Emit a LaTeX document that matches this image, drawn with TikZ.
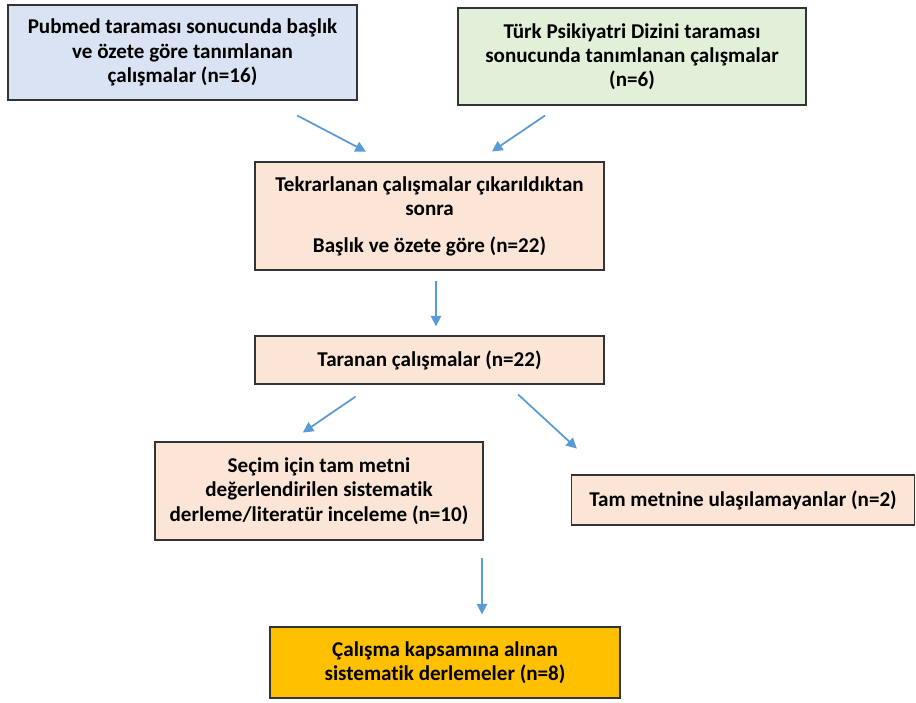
\documentclass[tikz,border=0pt]{standalone}
\usepackage{fontspec}
\setmainfont{Carlito}[Ligatures=NoCommon]
\usepackage{tikz}
\usetikzlibrary{arrows.meta}
\definecolor{pubblue}{HTML}{DAE3F3}
\definecolor{tpdgreen}{HTML}{E2F0D9}
\definecolor{peach}{HTML}{FBE5D6}
\definecolor{gold}{HTML}{FFC000}
\definecolor{arrblue}{HTML}{5B9BD5}
\tikzset{
  box/.style={draw=black!80,line width=0.8pt,align=center,inner sep=0pt,
    font=\fontsize{12}{13.8}\selectfont\bfseries},
  arr/.style={draw=arrblue,line width=1pt,-{Triangle[length=6pt,width=6pt]}}
}

\begin{document}
\begin{tikzpicture}[x=0.02cm,y=-0.02cm]
\useasboundingbox (0,0) rectangle (916,703);
% sources
\node[box,fill=pubblue,minimum width=6.98cm,minimum height=1.9cm] (pub) at (182.5,52.5)
  {Pubmed taraması sonucunda başlık\\ve özete göre tanımlanan\\çalışmalar (n=16)};
\node[box,fill=tpdgreen,minimum width=6.96cm,minimum height=1.94cm] (tpd) at (632,56.5)
  {Türk Psikiyatri Dizini taraması\\sonucunda tanımlanan çalışmalar\\(n=6)};
% screening
\node[box,fill=peach,minimum width=6.98cm,minimum height=2.16cm] (tekrar) at (429.5,216)
  {Tekrarlanan çalışmalar çıkarıldıktan\\sonra\\[7pt]Başlık ve özete göre (n=22)};
\node[box,fill=peach,minimum width=6.98cm,minimum height=0.96cm] (taranan) at (429.5,360)
  {Taranan çalışmalar (n=22)};
\node[box,fill=peach,minimum width=6.56cm,minimum height=1.96cm] (secim) at (319,491)
  {Seçim için tam metni\\değerlendirilen sistematik\\derleme/literatür inceleme (n=10)};
\node[box,fill=peach,minimum width=6.86cm,minimum height=1cm] (tam) at (743,500)
  {Tam metnine ulaşılamayanlar (n=2)};
% included
\node[box,fill=gold,minimum width=7cm,minimum height=1.42cm] (dahil) at (445,662.5)
  {Çalışma kapsamına alınan\\sistematik derlemeler (n=8)};

\draw[arr,shorten <=0.64cm,shorten >=0.42cm] ([xshift=1.73cm]pub.south) -- ([xshift=-0.9cm]tekrar.north);
\draw[arr,shorten <=0.35cm,shorten >=0.35cm] ([xshift=-1.45cm]tpd.south) -- ([xshift=0.96cm]tekrar.north);
\draw[arr,shorten <=0.2cm,shorten >=0.18cm] ([xshift=0.13cm]tekrar.south) -- ([xshift=0.13cm]taranan.north);
\draw[arr,shorten <=0.42cm,shorten >=0.31cm] ([xshift=-1.13cm]taranan.south) -- ([xshift=-0.58cm]secim.north);
\draw[arr,shorten <=0.29cm,shorten >=0.76cm] ([xshift=1.56cm]taranan.south) -- ([xshift=0.68cm]tam.north west);
\draw[arr,shorten <=0.34cm,shorten >=0.24cm] ([xshift=0.74cm]dahil.north |- secim.south) -- ([xshift=0.74cm]dahil.north);
\end{tikzpicture}
\end{document}
